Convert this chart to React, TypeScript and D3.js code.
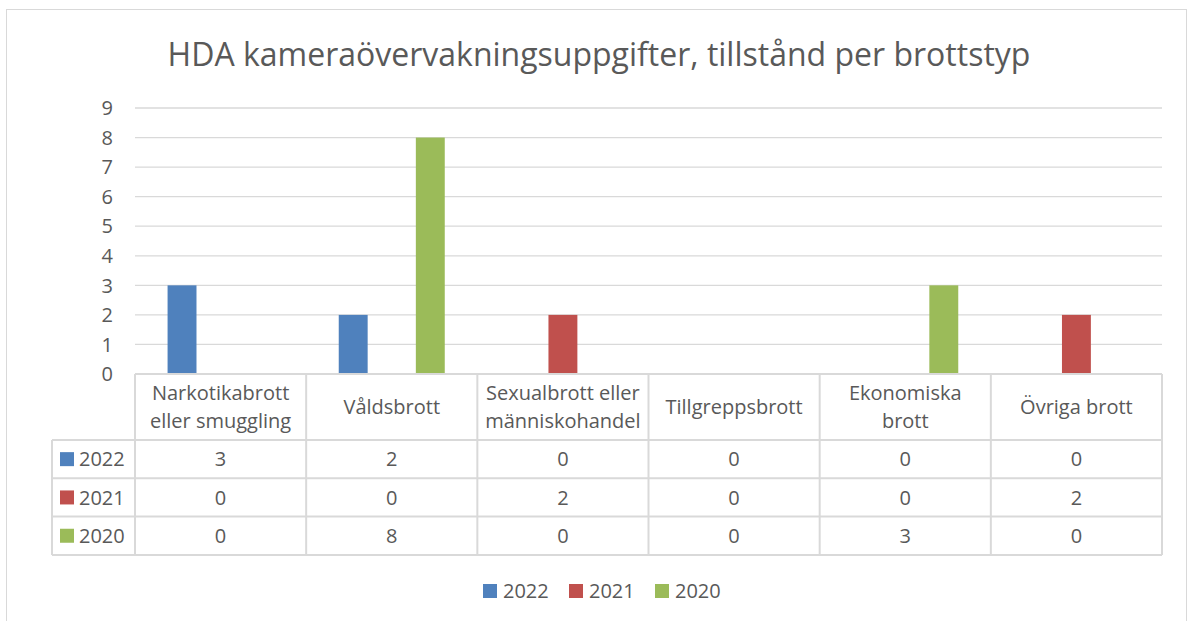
import React from 'react';
import * as d3 from 'd3';

const title = 'HDA kameraövervakningsuppgifter, tillstånd per brottstyp';
const categories = [
  'Narkotikabrott eller smuggling',
  'Våldsbrott',
  'Sexualbrott eller människohandel',
  'Tillgreppsbrott',
  'Ekonomiska brott',
  'Övriga brott',
];
const categoryLines = [
  ['Narkotikabrott', 'eller smuggling'],
  ['Våldsbrott'],
  ['Sexualbrott eller', 'människohandel'],
  ['Tillgreppsbrott'],
  ['Ekonomiska', 'brott'],
  ['Övriga brott'],
];
const seriesNames = ['2022', '2021', '2020'];
const values2022 = [3, 2, 0, 0, 0, 0];
const values2021 = [0, 0, 2, 0, 0, 2];
const values2020 = [0, 8, 0, 0, 3, 0];
const yTicks = [0, 1, 2, 3, 4, 5, 6, 7, 8, 9];
const seriesColors = ['#4F81BD', '#C0504D', '#9BBB59'];

const W = 1195;
const H = 621;
const FONT = '"Open Sans", "Noto Sans", sans-serif';
const TEXT = '#595959';
const GRID = '#D9D9D9';
const FS = 20;

const App = () => {
  const series = [values2022, values2021, values2020];
  const plot = { left: 135, right: 1162, top: 108, bottom: 374 };
  const tableLeft = 52;
  const headerBottom = 440;
  const rowH = 38.3;

  const x0 = d3.scaleBand<string>().domain(categories).range([plot.left, plot.right]).padding(0);
  const x1 = d3.scaleBand<string>()
    .domain(seriesNames)
    .range([0, x0.bandwidth()])
    .paddingInner(0.25)
    .paddingOuter(0.845);
  const y = d3.scaleLinear().domain([0, 9]).range([plot.bottom, plot.top]);
  const color = d3.scaleOrdinal<string, string>().domain(seriesNames).range(seriesColors);

  const colEdges = categories.map(c => x0(c) as number).concat([plot.right]);
  const rowTops = seriesNames.map((_, i) => headerBottom + i * rowH);
  const tableBottom = headerBottom + seriesNames.length * rowH;

  const legendItems = seriesNames.map((s, i) => ({ s, x: 483 + i * 86 }));

  return (
    <div style={{ position: 'absolute', left: 0, top: 0 }}>
      <svg width={W} height={H} style={{ display: 'block', background: '#fff' }} fontFamily={FONT}>
        <rect x={6.5} y={9.5} width={1180} height={640} fill="#fff" stroke={GRID} strokeWidth={1} />
        <text x={599} y={66} textAnchor="middle" fontSize={32} fill={TEXT}>{title}</text>

        {/* gridlines + y ticks */}
        {yTicks.map(t => (
          <g key={t}>
            {t > 0 && (
              <line x1={plot.left} x2={plot.right} y1={y(t)} y2={y(t)} stroke={GRID} strokeWidth={1.3} />
            )}
            <text x={113} y={y(t)} dy="0.36em" textAnchor="end" fontSize={FS} fill={TEXT}>{t}</text>
          </g>
        ))}

        {/* bars */}
        {series.map((vals, si) => (
          <g key={seriesNames[si]} fill={color(seriesNames[si])}>
            {vals.map((v, ci) => v > 0 ? (
              <rect
                key={ci}
                x={(x0(categories[ci]) as number) + (x1(seriesNames[si]) as number)}
                y={y(v)}
                width={x1.bandwidth()}
                height={y(0) - y(v)}
              />
            ) : null)}
          </g>
        ))}

        {/* data table */}
        <g stroke={GRID} strokeWidth={2} fill="none">
          <line x1={plot.left} x2={plot.right} y1={plot.bottom} y2={plot.bottom} />
          {colEdges.map((cx, i) => (
            <line key={i} x1={cx} x2={cx} y1={plot.bottom} y2={tableBottom} />
          ))}
          <line x1={tableLeft} x2={tableLeft} y1={headerBottom} y2={tableBottom} />
          {rowTops.concat([tableBottom]).map((ry, i) => (
            <line key={i} x1={tableLeft} x2={plot.right} y1={ry} y2={ry} />
          ))}
        </g>

        {categoryLines.map((lines, ci) => {
          const cx = (x0(categories[ci]) as number) + x0.bandwidth() / 2;
          const mid = (plot.bottom + headerBottom) / 2;
          return (
            <text key={ci} textAnchor="middle" fontSize={FS} fill={TEXT}>
              {lines.map((l, li) => (
                <tspan key={li} x={cx} y={mid + (li - (lines.length - 1) / 2) * 28} dy="0.36em">{l}</tspan>
              ))}
            </text>
          );
        })}

        {seriesNames.map((s, si) => (
          <g key={s}>
            <rect x={60} y={rowTops[si] + rowH / 2 - 7} width={14} height={14} fill={color(s)} />
            <text x={79} y={rowTops[si] + rowH / 2} dy="0.36em" fontSize={FS} fill={TEXT}>{s}</text>
            {series[si].map((v, ci) => (
              <text
                key={ci}
                x={(x0(categories[ci]) as number) + x0.bandwidth() / 2}
                y={rowTops[si] + rowH / 2}
                dy="0.36em"
                textAnchor="middle"
                fontSize={FS}
                fill={TEXT}
              >{v}</text>
            ))}
          </g>
        ))}

        {/* legend */}
        {legendItems.map(({ s, x }) => (
          <g key={s}>
            <rect x={x} y={584} width={14} height={14} fill={color(s)} />
            <text x={x + 20} y={591} dy="0.36em" fontSize={FS} fill={TEXT}>{s}</text>
          </g>
        ))}
      </svg>
    </div>
  );
};

export default App;
